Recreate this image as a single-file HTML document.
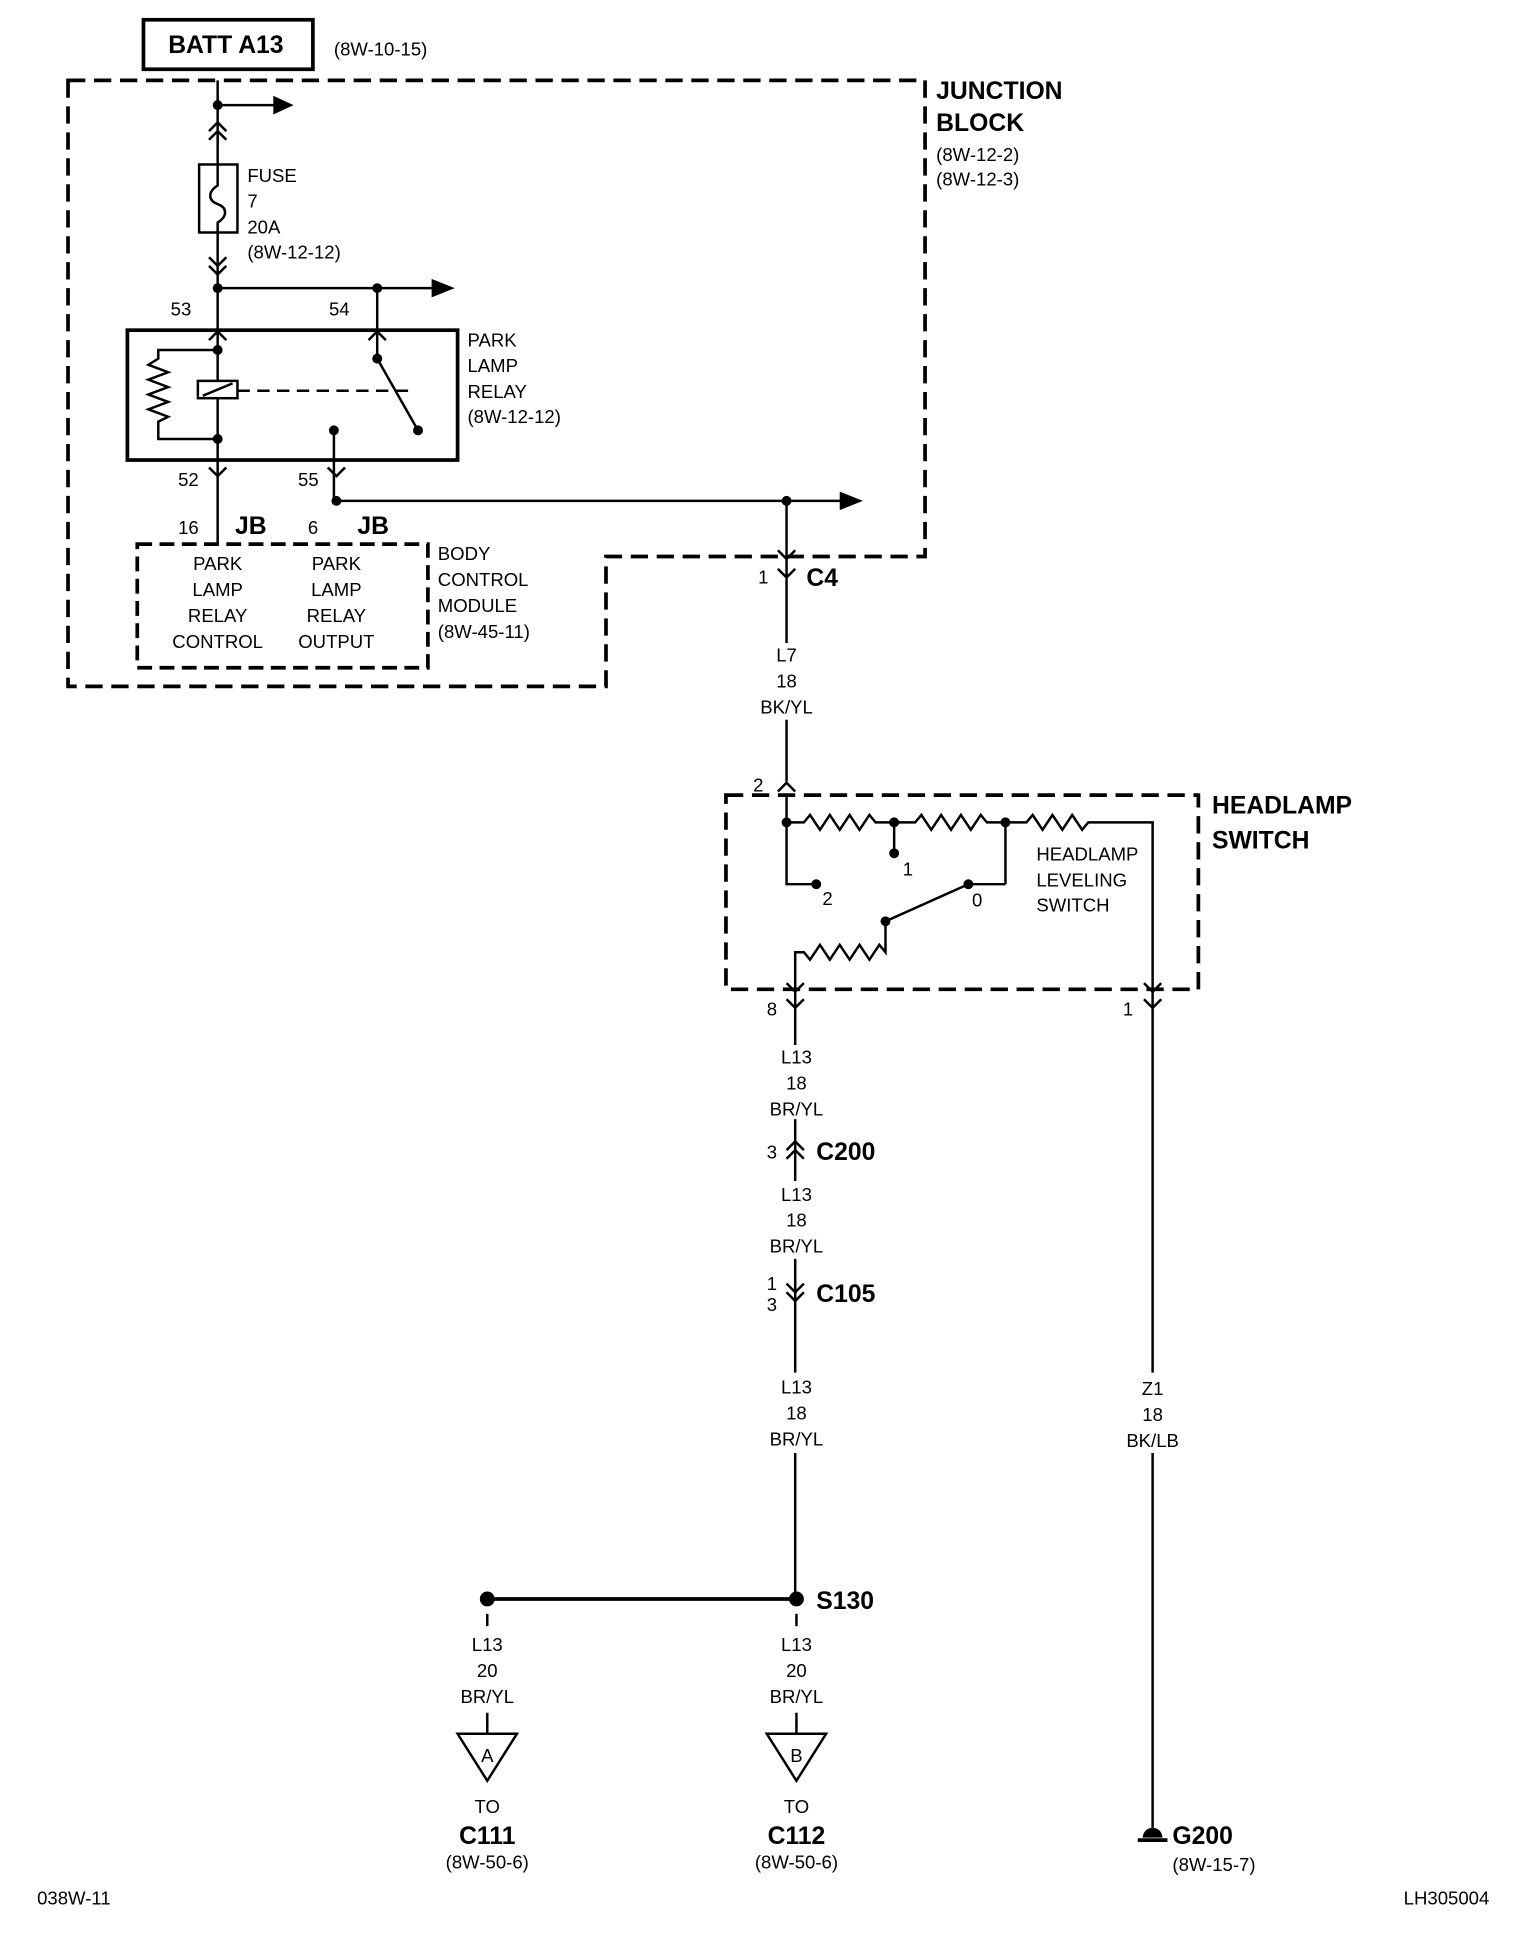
<!DOCTYPE html>
<html><head><meta charset="utf-8"><style>
html,body{margin:0;padding:0;background:#fff;}
svg{display:block;}
text{font-family:"Liberation Sans Narrow","Liberation Sans",sans-serif;fill:#000;font-size:15px;}
.b{font-weight:bold;font-size:20px;}
.c{text-anchor:middle;}
</style></head><body>
<svg width="1536" height="1944" viewBox="0 0 1242 1572" preserveAspectRatio="none" xmlns="http://www.w3.org/2000/svg">
<g stroke="#000" fill="none" stroke-width="2">
<rect x="116" y="16" width="137" height="40" stroke-width="3"/>
<path d="M55,65 H748 V450 H490 V555 H55 Z" stroke-width="3" stroke-dasharray="14,7"/>
<line x1="176" y1="65" x2="176" y2="133"/>
<line x1="176" y1="85" x2="232" y2="85"/>
<path d="M222,79 L235,85 L222,91z" fill="#000"/>
<path d="M169,106 L176,99 L183,106 M169,113 L176,106 L183,113"/>
<rect x="161" y="133" width="31" height="55"/>
<path d="M176,133 V150 C168,155 168,162 176,165 C184,168 184,175 176,180 V188"/>
<line x1="176" y1="188" x2="176" y2="233"/>
<path d="M169,208 L176,215 L183,208 M169,215 L176,222 L183,215"/>
<line x1="176" y1="233" x2="352" y2="233"/>
<path d="M350,227 L365,233 L350,239z" fill="#000"/>
<line x1="305" y1="233" x2="305" y2="290"/>
<line x1="176" y1="233" x2="176" y2="283"/>
<rect x="103" y="267" width="267" height="105" stroke-width="3"/>
<path d="M169,275 L176,268 L183,275"/>
<path d="M298,275 L305,268 L312,275"/>
<path d="M176,283 H128 V290 L120,295 L136,301 L120,307 L136,313 L120,319 L136,325 L120,331 L136,337 L128,341 V355 H176"/>
<line x1="176" y1="283" x2="176" y2="308"/>
<rect x="160" y="308" width="32" height="14"/>
<line x1="164" y1="320" x2="188" y2="310"/>
<line x1="176" y1="322" x2="176" y2="372"/>
<line x1="192" y1="316" x2="330" y2="316" stroke-dasharray="10,6"/>
<line x1="305" y1="290" x2="338" y2="348"/>
<line x1="270" y1="348" x2="270" y2="405"/>
<path d="M169,378 L176,385 L183,378"/>
<path d="M265,378 L272,385 L279,378"/>
<line x1="176" y1="372" x2="176" y2="440"/>
<line x1="272" y1="405" x2="682" y2="405"/>
<path d="M680,399 L695,405 L680,411z" fill="#000"/>
<line x1="636" y1="405" x2="636" y2="520"/>
<line x1="636" y1="582" x2="636" y2="632"/>
<path d="M629,445 L636,452 L643,445"/>
<path d="M629,460 L636,467 L643,460"/>
<rect x="111" y="440" width="235" height="100" stroke-width="3" stroke-dasharray="12,6"/>
<path d="M629,640 L636,633 L643,640"/>
<rect x="587" y="643" width="382" height="157" stroke-width="3" stroke-dasharray="14,7"/>
<line x1="636" y1="643" x2="636" y2="665"/>
<path d="M636,665 H650 L655,659 L663,671 L671,659 L679,671 L687,659 L695,671 L703,659 L708,665 H740 L745,659 L753,671 L761,659 L769,671 L777,659 L785,671 L793,659 L798,665 H830 L835,659 L843,671 L851,659 L859,671 L867,659 L875,671 L880,665 H932 V800"/>
<path d="M636,665 V715 H660"/>
<line x1="723" y1="665" x2="723" y2="690"/>
<line x1="813" y1="665" x2="813" y2="715"/>
<line x1="813" y1="715" x2="783" y2="715"/>
<line x1="716" y1="745" x2="783" y2="715"/>
<path d="M716,745 V770 L711,764 L703,776 L695,764 L687,776 L679,764 L671,776 L663,764 L655,776 L650,770 H643 V800"/>
<path d="M636,795 L643,802 L650,795"/>
<path d="M925,795 L932,802 L939,795"/>
<line x1="643" y1="800" x2="643" y2="845"/>
<path d="M636,808 L643,815 L650,808"/>
<path d="M925,808 L932,815 L939,808"/>
<line x1="932" y1="800" x2="932" y2="1110"/>
<line x1="932" y1="1175" x2="932" y2="1478"/>
<line x1="643" y1="905" x2="643" y2="955"/>
<path d="M636,930 L643,923 L650,930 M636,937 L643,930 L650,937"/>
<line x1="643" y1="1018" x2="643" y2="1110"/>
<path d="M636,1038 L643,1045 L650,1038 M636,1045 L643,1052 L650,1045"/>
<line x1="643" y1="1175" x2="643" y2="1293"/>
<line x1="394" y1="1293" x2="643" y2="1293" stroke-width="3"/>
<line x1="394" y1="1305" x2="394" y2="1315"/>
<line x1="644" y1="1305" x2="644" y2="1315"/>
<line x1="394" y1="1385" x2="394" y2="1402"/>
<line x1="644" y1="1385" x2="644" y2="1402"/>
<path d="M370,1402 H418 L394,1440z"/>
<path d="M620,1402 H668 L644,1440z"/>
<line x1="920" y1="1488" x2="944" y2="1488" stroke-width="3"/>
</g>
<g fill="#000">
<circle cx="176" cy="85" r="4"/><circle cx="176" cy="233" r="4"/><circle cx="305" cy="233" r="4"/>
<circle cx="176" cy="283" r="4"/><circle cx="176" cy="355" r="4"/><circle cx="305" cy="290" r="4"/>
<circle cx="338" cy="348" r="4"/><circle cx="270" cy="348" r="4"/><circle cx="272" cy="405" r="4"/>
<circle cx="636" cy="405" r="4"/><circle cx="636" cy="665" r="4"/><circle cx="723" cy="665" r="4"/>
<circle cx="813" cy="665" r="4"/><circle cx="723" cy="690" r="4"/><circle cx="660" cy="715" r="4"/>
<circle cx="783" cy="715" r="4"/><circle cx="716" cy="745" r="4"/>
<circle cx="394" cy="1293" r="6"/><circle cx="644" cy="1293" r="6"/>
<path d="M924,1486 A8,8 0 0 1 940,1486z"/>
</g>
<text x="136" y="43" class="b">BATT A13</text>
<text x="270" y="45">(8W-10-15)</text>
<text x="757" y="80" class="b">JUNCTION</text>
<text x="757" y="106" class="b">BLOCK</text>
<text x="757" y="130">(8W-12-2)</text>
<text x="757" y="150">(8W-12-3)</text>
<text x="200" y="147">FUSE</text><text x="200" y="168">7</text><text x="200" y="189">20A</text><text x="200" y="209">(8W-12-12)</text>
<text x="138" y="255">53</text><text x="266" y="255">54</text>
<text x="378" y="280">PARK</text><text x="378" y="301">LAMP</text><text x="378" y="322">RELAY</text><text x="378" y="342">(8W-12-12)</text>
<text x="144" y="393">52</text><text x="241" y="393">55</text>
<text x="144" y="432">16</text><text x="190" y="432" class="b">JB</text>
<text x="249" y="432">6</text><text x="289" y="432" class="b">JB</text>
<text x="176" y="461" class="c">PARK</text><text x="176" y="482" class="c">LAMP</text><text x="176" y="503" class="c">RELAY</text><text x="176" y="524" class="c">CONTROL</text>
<text x="272" y="461" class="c">PARK</text><text x="272" y="482" class="c">LAMP</text><text x="272" y="503" class="c">RELAY</text><text x="272" y="524" class="c">OUTPUT</text>
<text x="354" y="453">BODY</text><text x="354" y="474">CONTROL</text><text x="354" y="495">MODULE</text><text x="354" y="516">(8W-45-11)</text>
<text x="613" y="472">1</text><text x="652" y="474" class="b">C4</text>
<text x="636" y="535" class="c">L7</text><text x="636" y="556" class="c">18</text><text x="636" y="577" class="c">BK/YL</text>
<text x="609" y="640">2</text>
<text x="980" y="658" class="b">HEADLAMP</text><text x="980" y="686" class="b">SWITCH</text>
<text x="838" y="696">HEADLAMP</text><text x="838" y="717">LEVELING</text><text x="838" y="737">SWITCH</text>
<text x="730" y="708">1</text><text x="665" y="732">2</text><text x="786" y="733">0</text>
<text x="620" y="821">8</text><text x="908" y="821">1</text>
<text x="644" y="860" class="c">L13</text><text x="644" y="881" class="c">18</text><text x="644" y="902" class="c">BR/YL</text>
<text x="620" y="937">3</text><text x="660" y="938" class="b">C200</text>
<text x="644" y="971" class="c">L13</text><text x="644" y="992" class="c">18</text><text x="644" y="1013" class="c">BR/YL</text>
<text x="620" y="1043">1</text><text x="620" y="1060">3</text><text x="660" y="1053" class="b">C105</text>
<text x="644" y="1127" class="c">L13</text><text x="644" y="1148" class="c">18</text><text x="644" y="1169" class="c">BR/YL</text>
<text x="932" y="1128" class="c">Z1</text><text x="932" y="1149" class="c">18</text><text x="932" y="1170" class="c">BK/LB</text>
<text x="660" y="1301" class="b">S130</text>
<text x="394" y="1335" class="c">L13</text><text x="394" y="1356" class="c">20</text><text x="394" y="1377" class="c">BR/YL</text>
<text x="644" y="1335" class="c">L13</text><text x="644" y="1356" class="c">20</text><text x="644" y="1377" class="c">BR/YL</text>
<text x="394" y="1425" class="c">A</text><text x="644" y="1425" class="c">B</text>
<text x="394" y="1466" class="c">TO</text><text x="644" y="1466" class="c">TO</text>
<text x="394" y="1491" class="c b">C111</text><text x="644" y="1491" class="c b">C112</text>
<text x="394" y="1511" class="c">(8W-50-6)</text><text x="644" y="1511" class="c">(8W-50-6)</text>
<text x="948" y="1491" class="b">G200</text><text x="948" y="1513">(8W-15-7)</text>
<text x="30" y="1540">038W-11</text>
<text x="1135" y="1540">LH305004</text>
</svg>
</body></html>
